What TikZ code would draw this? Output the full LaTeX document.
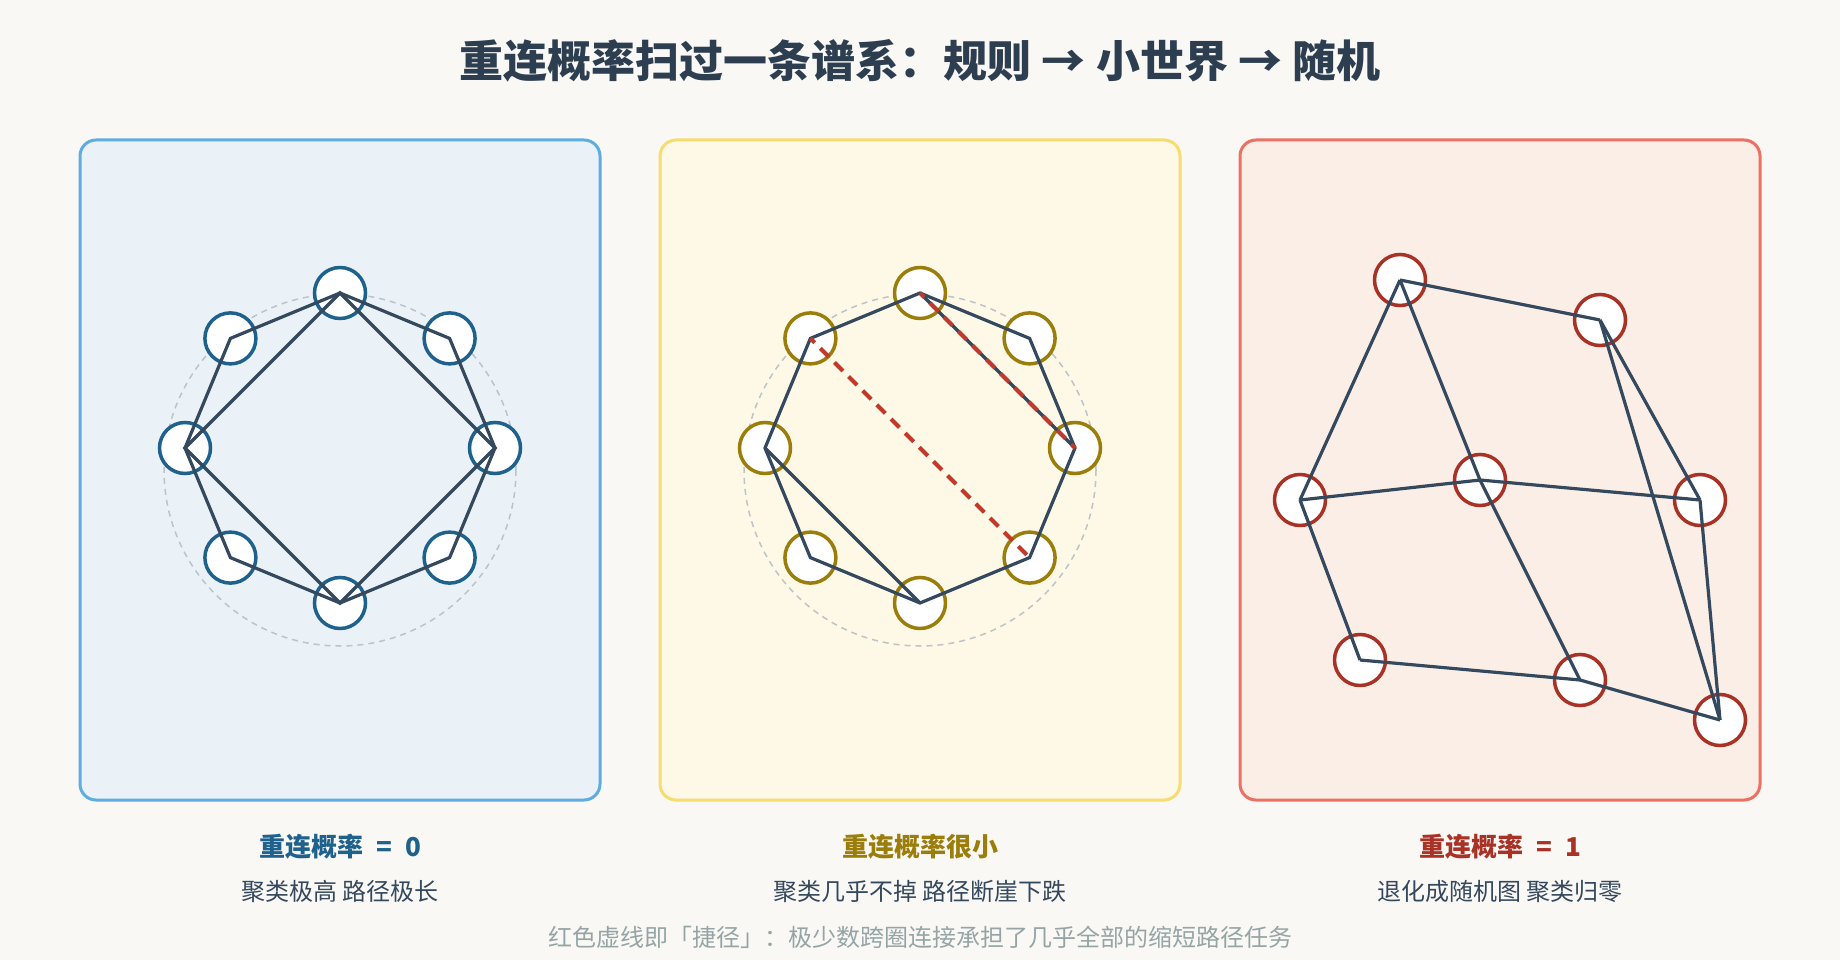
\documentclass[tikz,border=0pt]{standalone}
\usepackage{fontspec}
\setmainfont{Noto Sans CJK SC}
\usetikzlibrary{calc}

\definecolor{paper}{HTML}{FAF8F5}
\definecolor{ink}{HTML}{2C3E50}
\definecolor{edgeink}{HTML}{34495E}
\definecolor{mutedink}{HTML}{95A5A6}
\definecolor{ringgray}{HTML}{BDC3C7}
\definecolor{shortcut}{HTML}{C0392B}
\definecolor{regfill}{HTML}{EAF2F8}
\definecolor{regline}{HTML}{5DADE2}
\definecolor{regnode}{HTML}{1F618D}
\definecolor{swfill}{HTML}{FEF9E7}
\definecolor{swline}{HTML}{F7DC6F}
\definecolor{swnode}{HTML}{9A7D0A}
\definecolor{rndfill}{HTML}{FBEEE6}
\definecolor{rndline}{HTML}{EC7063}
\definecolor{rndnode}{HTML}{A93226}

\begin{document}
\begin{tikzpicture}[x=1pt,y=-1pt,
    panel/.style={draw,line width=3pt,rounded corners=16pt,minimum width=520pt,minimum height=660pt,inner sep=0pt},
    vertex/.style={circle,draw,fill=white,line width=3.5pt,minimum size=51pt,inner sep=0pt},
    link/.style={edgeink,line width=3.2pt,line join=miter},
    shortlink/.style={shortcut,line width=4pt,dash pattern=on 12pt off 8pt,dash phase=6pt},
    guide/.style={ringgray,line width=1.5pt,dash pattern=on 6pt off 5pt},
    caption/.style={font=\fontsize{26}{30}\selectfont\bfseries},
    subcaption/.style={font=\fontsize{24}{28}\selectfont,text=edgeink}
  ]
    \fill[paper] (0,0) rectangle (1840,960);
    \useasboundingbox (0,0) rectangle (1840,960);

    \node[font=\fontsize{44}{52}\selectfont\bfseries,text=ink] (title) at (920,61) {重连概率扫过一条谱系：规则 → 小世界 → 随机};

    % three panels
    \node[panel,draw=regline,fill=regfill] (reg-panel) at (340,470) {};
    \node[panel,draw=swline,fill=swfill]   (sw-panel)  at (920,470) {};
    \node[panel,draw=rndline,fill=rndfill] (rnd-panel) at (1500,470) {};

    % ring lattices
    \foreach \p/\x/\c in {reg/340/regnode, sw/920/swnode} {
      \draw[guide] (\x,470) circle[radius=176];
      \foreach \i in {0,...,7}
        \node[vertex,draw=\c] (\p-\i) at ($(\x,448)+(-90+45*\i:155)$) {};
      \draw[link] (\p-0.center) \foreach \i in {1,...,7} {-- (\p-\i.center)} -- cycle;
    };
    \draw[link] (reg-0.center) -- (reg-2.center) -- (reg-4.center) -- (reg-6.center) -- cycle;
    \draw[link] (sw-6.center) -- (sw-4.center) (sw-0.center) -- (sw-2.center);
    \draw[shortlink] (sw-0.center) -- (sw-2.center) (sw-7.center) -- (sw-3.center);

    % random graph
    \foreach \n/\x/\y in {a/1400/280, b/1600/320, c/1300/500, d/1480/480,
                          e/1700/500, f/1360/660, g/1580/680, h/1720/720}
      \node[vertex,draw=rndnode] (rnd-\n) at (\x,\y) {};
    \foreach \u/\v in {a/b,a/c,a/d,c/d,d/e,d/g,c/f,f/g,g/h,b/e,b/h,e/h}
      \draw[link] (rnd-\u.center) -- (rnd-\v.center);

    % captions
    \foreach \p/\x/\c/\t/\s in {reg/340/regnode/{重连概率\enspace=\enspace0}/{聚类极高 路径极长},
                                sw/920/swnode/{重连概率很小}/{聚类几乎不掉 路径断崖下跌},
                                rnd/1500/rndnode/{重连概率\enspace=\enspace1}/{退化成随机图 聚类归零}} {
      \node[caption,text=\c] (\p-cap) at (\x,847) {\t};
      \node[subcaption] (\p-sub) at (\x,891) {\s};
    };

    \node[font=\fontsize{24}{28}\selectfont,text=mutedink] (note) at (920,937) {红色虚线即「捷径」：极少数跨圈连接承担了几乎全部的缩短路径任务};
  \end{tikzpicture}
\end{document}
